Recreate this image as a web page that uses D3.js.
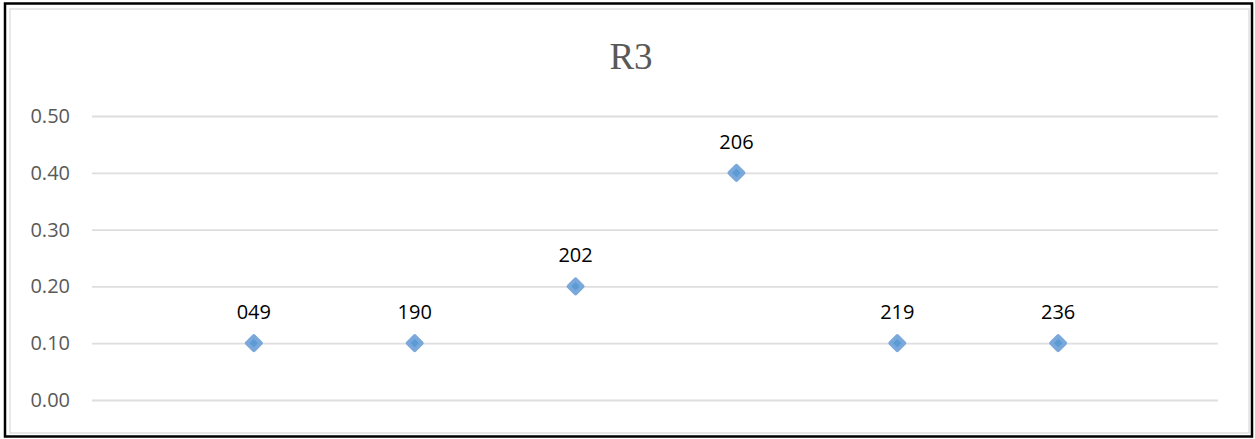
<!DOCTYPE html>
<html>
<head>
<meta charset="utf-8">
<script src="https://cdn.jsdelivr.net/npm/d3@7"></script>
<style>
  html, body { margin: 0; padding: 0; background: #fff; }
  svg { display: block; }
</style>
</head>
<body>
<svg id="chart" width="1255" height="439"></svg>
<script>
// ---- data ----
const title = "R3";
const pointLabels = ["049", "190", "202", "206", "219", "236"];
const xValues = [1, 2, 3, 4, 5, 6];
const yValues = [0.10, 0.10, 0.20, 0.40, 0.10, 0.10];
const yTicks = [0.00, 0.10, 0.20, 0.30, 0.40, 0.50];
const xDomain = [0, 7];
const yDomain = [0, 0.5];

// ---- layout ----
const plot = { left: 92, right: 1218, top: 116, bottom: 400 };
const svg = d3.select("#chart");

// frame
svg.append("rect").attr("x", 5).attr("y", 3.5).attr("width", 1247).attr("height", 433)
  .attr("fill", "#fff").attr("stroke", "#000").attr("stroke-width", 2.5);
svg.append("rect").attr("x", 10).attr("y", 9).attr("width", 1239).attr("height", 424)
  .attr("fill", "none").attr("stroke", "#d9d9d9").attr("stroke-width", 1.2);

const x = d3.scaleLinear().domain(xDomain).range([plot.left, plot.right]);
const y = d3.scaleLinear().domain(yDomain).range([plot.bottom, plot.top]);

// y axis with gridlines
const yAxis = d3.axisLeft(y).tickValues(yTicks).tickFormat(d3.format(".2f"))
  .tickSize(-(plot.right - plot.left)).tickPadding(22);
const gy = svg.append("g").attr("transform", `translate(${plot.left},0)`).call(yAxis);
gy.select(".domain").remove();
gy.selectAll(".tick line").attr("stroke", "#dedede").attr("stroke-width", 1.8);
gy.selectAll(".tick text")
  .attr("fill", "#595959")
  .style("font-family", "'Open Sans', 'Liberation Sans', sans-serif")
  .style("font-size", "20px");

// title
svg.append("text").attr("x", 631).attr("y", 69).attr("text-anchor", "middle")
  .attr("fill", "#595959")
  .style("font-family", "'Liberation Serif', 'DejaVu Serif', serif")
  .style("font-size", "37px")
  .text(title);

// points
const data = xValues.map((xv, i) => ({ x: xv, y: yValues[i], label: pointLabels[i] }));
const r = 7;
const diamond = `M0,${-r} L${r},0 L0,${r} L${-r},0 Z`;
const pts = svg.append("g");
pts.selectAll("path").data(data).enter().append("path")
  .attr("transform", d => `translate(${x(d.x) + 1},${y(d.y)})`)
  .attr("d", diamond)
  .attr("fill", "#5b9bd5")
  .attr("stroke", "#7aa8db")
  .attr("stroke-width", 4)
  .attr("stroke-linejoin", "round");

// data labels
svg.append("g").selectAll("text").data(data).enter().append("text")
  .attr("x", d => x(d.x) + 1)
  .attr("y", d => y(d.y) - 24)
  .attr("text-anchor", "middle")
  .attr("fill", "#000")
  .style("font-family", "'Open Sans', 'Liberation Sans', sans-serif")
  .style("font-size", "20px")
  .text(d => d.label);
</script>
</body>
</html>
